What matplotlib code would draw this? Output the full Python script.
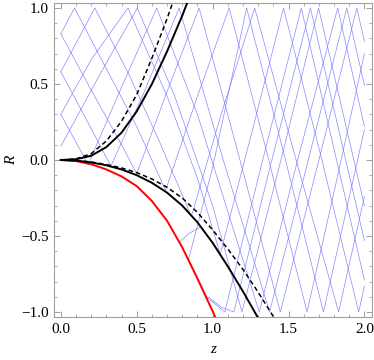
import numpy as np
import matplotlib
matplotlib.use("Agg")
import matplotlib.pyplot as plt
from matplotlib.ticker import MultipleLocator

# --- boundary curves (z, R) ---
upper_solid_z = [0.0, 0.1, 0.2, 0.3, 0.4, 0.5, 0.6, 0.7, 0.8, 0.85]
upper_solid_R = [0.0, 0.005, 0.028, 0.085, 0.18, 0.32, 0.5, 0.715, 0.95, 1.08]
upper_dash_z = [0.0, 0.1, 0.2, 0.3, 0.4, 0.5, 0.6, 0.7, 0.745]
upper_dash_R = [0.0, 0.007, 0.042, 0.125, 0.255, 0.43, 0.67, 0.93, 1.06]
lower_solid_z = [0.0, 0.1, 0.2, 0.3, 0.4, 0.5, 0.6, 0.7, 0.8, 0.9, 1.0, 1.1, 1.2, 1.3]
lower_solid_R = [0.0, -0.004, -0.016, -0.035, -0.062, -0.1, -0.15, -0.215, -0.30,
                 -0.41, -0.545, -0.70, -0.865, -1.04]
lower_dash_z = [0.0, 0.1, 0.2, 0.3, 0.4, 0.5, 0.6, 0.7, 0.8, 0.9, 1.0, 1.1, 1.2, 1.3, 1.4, 1.42]
lower_dash_R = [0.0, -0.003, -0.013, -0.03, -0.052, -0.083, -0.125, -0.18, -0.25,
                -0.345, -0.46, -0.585, -0.72, -0.87, -1.03, -1.06]
red_z = [0.0, 0.1, 0.2, 0.3, 0.4, 0.5, 0.6, 0.7, 0.8, 0.9, 1.0, 1.02]
red_R = [0.0, -0.007, -0.028, -0.062, -0.108, -0.172, -0.27, -0.40, -0.575, -0.78, -0.995, -1.04]

# --- characteristic mesh: vertices (z, R) of each blue polyline ---
mesh = [
    [(0, 0.83), (0.2, 0.46), (0.4, 0.1), (0.5, -0.09), (0.7, 0.45), (0.911, 1.0),
     (1.18, 0.0), (1.446, -1.0), (1.70, 0.0), (1.95, 1.0), (2.0, 0.78)],
    [(0, 0.83), (0.09, 1.0), (0.3, 0.6), (0.5, 0.22), (0.69, -0.2), (0.9, 0.42),
     (1.109, 1.0), (1.37, 0.0), (1.622, -1.0), (1.82, -0.12), (2.0, 0.7)],
    [(0, 0.58), (0.224, 1.0), (0.45, 0.56), (0.65, 0.12), (0.86, -0.37), (1.05, 0.28),
     (1.277, 1.0), (1.55, 0.0), (1.83, -1.0), (2.0, -0.24)],
    [(0, 0.58), (0.15, 0.3), (0.33, -0.04), (0.55, 0.45), (0.78, 1.0), (1.07, 0.0),
     (1.375, -1.0), (1.63, 0.0), (1.884, 1.0), (2.0, 0.49)],
    [(0, 0.30), (0.2, 0.66), (0.442, 1.0), (0.7, 0.42), (0.9, -0.12), (1.05, -0.62),
     (1.25, 0.15), (1.467, 1.0), (1.72, 0.0), (1.962, -1.0), (2.0, -0.83)],
    [(0, 0.30), (0.18, -0.03), (0.4, 0.48), (0.632, 1.0), (0.9, 0.3), (1.1, -0.34),
     (1.307, -1.0), (1.56, 0.0), (1.824, 1.0), (2.0, 0.22)],
    [(0, 0.09), (0.25, 0.55), (0.504, 1.0), (0.75, 0.42), (1.0, -0.3), (1.193, -1.0),
     (1.45, 0.0), (1.698, 1.0), (2.0, -0.3)],
    [(0.84, -0.66), (1.0, -0.05), (1.224, 1.0), (1.48, 0.0), (1.73, -1.0), (2.0, 0.2)],
    [(0.83, -0.63), (0.96, -0.9), (1.08, -1.0), (1.33, 0.0), (1.584, 1.0), (2.0, -0.79)],
    [(0.97, -0.9), (1.06, -0.97), (1.14, -1.0), (1.39, 0.0), (1.644, 1.0), (2.0, -0.53)],
    [(0.78, -0.54), (0.85, -0.48), (0.92, -0.44)],
]

plt.rcParams['font.family'] = ['Liberation Serif', 'DejaVu Serif']

fig = plt.figure(figsize=(3.74, 3.6), dpi=100)
ax = fig.add_axes([0.1444, 0.1194, 0.8503, 0.8723])

blue = (0.45, 0.45, 1.0)
for line in mesh:
    z, R = zip(*line)
    ax.plot(z, R, color=blue, lw=0.5, alpha=0.85, zorder=1)

ax.plot(red_z, red_R, color='red', lw=1.4, zorder=3)
ax.plot(upper_solid_z, upper_solid_R, color='black', lw=1.4, zorder=3)
ax.plot(lower_solid_z, lower_solid_R, color='black', lw=1.4, zorder=3)
ax.plot(upper_dash_z, upper_dash_R, color='black', lw=1.1, ls=(0, (3, 2)), zorder=3)
ax.plot(lower_dash_z, lower_dash_R, color='black', lw=1.1, ls=(0, (3, 2)), zorder=3)

ax.set_xlim(-0.045, 2.05)
ax.set_ylim(-1.033, 1.033)

ax.xaxis.set_major_locator(MultipleLocator(0.5))
ax.xaxis.set_minor_locator(MultipleLocator(0.1))
ax.yaxis.set_major_locator(MultipleLocator(0.5))
ax.yaxis.set_minor_locator(MultipleLocator(0.1))
ax.xaxis.set_major_formatter(lambda v, p: f"{v:.1f}".replace('-', '\u2212'))
ax.yaxis.set_major_formatter(lambda v, p: f"{v:.1f}".replace('-', '\u2212'))

gray = '#a0a0a0'
for s in ax.spines.values():
    s.set_color(gray)
    s.set_linewidth(0.8)
ax.tick_params(which='both', direction='in', top=True, right=True, color=gray,
               labelsize=11, labelcolor='black', pad=4)
ax.tick_params(which='major', length=4, width=0.7)
ax.tick_params(which='minor', length=2, width=0.6)

ax.set_xlabel('z', style='italic', fontsize=11, labelpad=5)
ax.set_ylabel('R', style='italic', fontsize=11, labelpad=2)

fig.savefig('out.png', dpi=100)
